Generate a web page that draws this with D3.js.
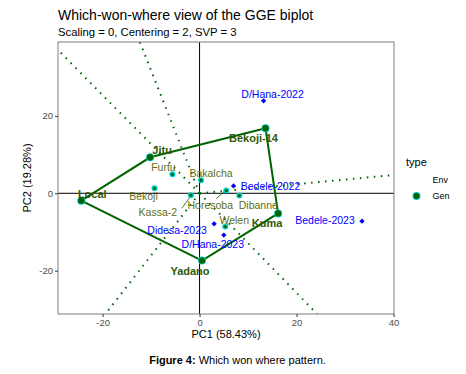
<!DOCTYPE html>
<html><head><meta charset="utf-8">
<script src="https://cdn.jsdelivr.net/npm/d3@7"></script>
<style>body{margin:0;background:#fff}svg{display:block;font-family:"Liberation Sans",Arial,sans-serif}</style>
</head><body><svg id="c" width="466" height="374"></svg>
<script>
// ---- data ----
const genNames = ["Jitu","Local","Yadano","Kuma","Bekoji-14","Furtu","Bakalcha","Bekoji","Kassa-2","Horesoba","Dibanne","Welen"];
const genPC1 = [-10.2,-24.4,0.5,16.2,13.6,-5.6,0.3,-9.3,-1.8,5.5,8.2,5.3];
const genPC2 = [9.3,-1.9,-17.4,-5.2,16.8,4.9,3.4,1.3,-0.5,0.7,-0.6,-8.6];
const envNames = ["D/Hana-2022","Bedele-2022","Bedele-2023","Didesa-2023","D/Hana-2023"];
const envPC1 = [13.2,7.0,33.5,3.0,5.0];
const envPC2 = [23.9,1.9,-7.2,-7.9,-10.8];
const hullOrder = ["Local","Jitu","Bekoji-14","Kuma","Yadano"];
const xTicks = [-20,0,20,40];
const yTicks = [-20,0,20];

// ---- layout (label offsets in px) ----
const genOff = {"Jitu":[12,-7],"Local":[11,-7],"Yadano":[-12,10],"Kuma":[-11,10],"Bekoji-14":[-12,10],
  "Furtu":[-9,-7],"Bakalcha":[10,-7],"Bekoji":[-11,8],"Kassa-2":[-33,17],"Horesoba":[-16,14],"Dibanne":[19,9],"Welen":[9,-7]};
const envOff = {"D/Hana-2022":[9,-7],"Bedele-2022":[37,0.5],"Bedele-2023":[-37,-1],"Didesa-2023":[-37,6],"D/Hana-2023":[-11,9]};

const svg = d3.select("#c");
const L=58,R=394,T=42,B=314;
const x = d3.scaleLinear().domain([-29.2,40.1]).range([L,R]);
const y = d3.scaleLinear().domain([-31.2,39.1]).range([B,T]);
const green="#006400", cyan="#00CDCD";

svg.append("text").attr("x",58).attr("y",19.5).attr("font-size",14).attr("fill","#000").text("Which-won-where view of the GGE biplot");
svg.append("text").attr("x",58).attr("y",36).attr("font-size",11.3).attr("fill","#000").text("Scaling = 0, Centering = 2, SVP = 3");

svg.append("defs").append("clipPath").attr("id","clip").append("rect").attr("x",L).attr("y",T).attr("width",R-L).attr("height",B-T);
const g = svg.append("g").attr("clip-path","url(#clip)");

// zero lines
g.append("line").attr("x1",x(0)).attr("x2",x(0)).attr("y1",T).attr("y2",B).attr("stroke","#000").attr("stroke-width",1);
g.append("line").attr("x1",L).attr("x2",R).attr("y1",y(0)).attr("y2",y(0)).attr("stroke","#000").attr("stroke-width",1);

// hull
const gi = n => genNames.indexOf(n);
const hullPts = hullOrder.map(n=>[genPC1[gi(n)],genPC2[gi(n)]]);
// rays perpendicular to hull edges from origin
hullPts.forEach((p,i)=>{
  const q = hullPts[(i+1)%hullPts.length];
  const ex=q[0]-p[0], ey=q[1]-p[1];
  const t = -(p[0]*ex+p[1]*ey)/(ex*ex+ey*ey);
  const fx=p[0]+t*ex, fy=p[1]+t*ey;
  const k=20;
  g.append("line").attr("x1",x(0)).attr("y1",y(0)).attr("x2",x(fx*k)).attr("y2",y(fy*k))
   .attr("stroke",green).attr("stroke-width",2).attr("stroke-dasharray","1.5 5.5");
});
g.append("path").attr("d",d3.line().x(d=>x(d[0])).y(d=>y(d[1])).curve(d3.curveLinearClosed)(hullPts))
 .attr("fill","none").attr("stroke",green).attr("stroke-width",2);

// leader segments
g.append("line").attr("x1",x(genPC1[gi("Kassa-2")])-9).attr("y1",y(genPC2[gi("Kassa-2")])+13)
 .attr("x2",x(genPC1[gi("Kassa-2")])-1).attr("y2",y(genPC2[gi("Kassa-2")])+2).attr("stroke",green).attr("stroke-width",0.8);
g.append("line").attr("x1",x(genPC1[gi("Horesoba")])-10).attr("y1",y(genPC2[gi("Horesoba")])+8)
 .attr("x2",x(genPC1[gi("Horesoba")])-2).attr("y2",y(genPC2[gi("Horesoba")])+1).attr("stroke",green).attr("stroke-width",0.8);

// env points
const diamond = d3.symbol().type(d3.symbolSquare).size(14);
envNames.forEach((n,i)=>{
  g.append("path").attr("d",diamond).attr("transform",`translate(${x(envPC1[i])},${y(envPC2[i])}) rotate(45)`).attr("fill","#0000FF");
  g.append("text").attr("x",x(envPC1[i])+envOff[n][0]).attr("y",y(envPC2[i])+envOff[n][1])
   .attr("text-anchor","middle").attr("dominant-baseline","central").attr("font-size",10.5).attr("fill","#0000FF").text(n);
});
// gen points
genNames.forEach((n,i)=>{
  const vert = hullOrder.includes(n);
  const cx=x(genPC1[i]), cy=y(genPC2[i]);
  g.append("circle").attr("cx",cx).attr("cy",cy).attr("r",vert?4:3).attr("fill",cyan);
  g.append("circle").attr("cx",cx).attr("cy",cy).attr("r",vert?3.2:1.6).attr("fill",green);
  g.append("text").attr("x",cx+genOff[n][0]).attr("y",cy+genOff[n][1])
   .attr("text-anchor","middle").attr("dominant-baseline","central")
   .attr("font-size",vert?11:10.5).attr("font-weight",vert?"bold":"normal")
   .attr("fill",vert?"#2F5A0A":"#5C7018").text(n);
});

// panel border
svg.append("rect").attr("x",L).attr("y",T).attr("width",R-L).attr("height",B-T).attr("fill","none").attr("stroke","#7F7F7F").attr("stroke-width",1);

// axes
const xa = svg.append("g").attr("transform",`translate(0,${B})`).call(d3.axisBottom(x).tickValues(xTicks).tickSize(3).tickPadding(2));
const ya = svg.append("g").attr("transform",`translate(${L},0)`).call(d3.axisLeft(y).tickValues(yTicks).tickSize(3).tickPadding(2));
[xa,ya].forEach(a=>{a.select(".domain").remove();a.selectAll("line").attr("stroke","#333");a.selectAll("text").attr("fill","#4D4D4D").attr("font-size",9.5).attr("font-family","Liberation Sans, Arial, sans-serif");});
ya.selectAll("text").text(d=>d3.format("d")(d).replace("−","-"));
xa.selectAll("text").text(d=>d3.format("d")(d).replace("−","-"));

svg.append("text").attr("x",226).attr("y",338).attr("text-anchor","middle").attr("font-size",11).text("PC1 (58.43%)");
svg.append("text").attr("transform","translate(31,178) rotate(-90)").attr("text-anchor","middle").attr("font-size",11).text("PC2 (19.28%)");

// legend
svg.append("text").attr("x",406).attr("y",162).attr("dominant-baseline","central").attr("font-size",11).text("type");
svg.append("text").attr("x",432.5).attr("y",180).attr("dominant-baseline","central").attr("font-size",9).text("Env");
svg.append("text").attr("x",432.5).attr("y",196).attr("dominant-baseline","central").attr("font-size",9).text("Gen");
svg.append("circle").attr("cx",416.5).attr("cy",196).attr("r",4).attr("fill",cyan);
svg.append("circle").attr("cx",416.5).attr("cy",196).attr("r",3).attr("fill",green);

// caption
const cap = svg.append("text").attr("x",237.5).attr("y",364).attr("text-anchor","middle").attr("font-size",11);
cap.append("tspan").attr("font-weight","bold").text("Figure 4:");
cap.append("tspan").text(" Which won where pattern.");
</script></body></html>
